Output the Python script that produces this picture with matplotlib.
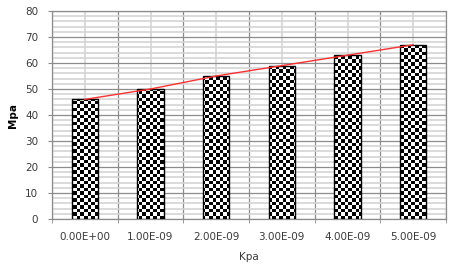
import numpy as np
import matplotlib
matplotlib.use("Agg")
import matplotlib.pyplot as plt
from matplotlib.ticker import MultipleLocator

# data
categories = ["0.00E+00", "1.00E-09", "2.00E-09", "3.00E-09", "4.00E-09", "5.00E-09"]
mpa_values = [46, 50, 55, 59, 63, 67]
x_label = "Kpa"
y_label = "Mpa"

text_col = "#3a3a3a"
major_grid = "#8c8c8c"
minor_grid = "#d4d4d4"

fig = plt.figure(figsize=(4.61, 2.78), dpi=100)
ax = fig.add_axes([52 / 461, 1 - 219 / 278, 394 / 461, 208 / 278])

x = np.arange(len(categories))
n = len(categories)

# bar outlines on top, checker image clipped to each bar beneath
bars = ax.bar(x, mpa_values, width=0.4, facecolor="none", edgecolor="black",
              linewidth=1.0, zorder=4)
ny, nx = 60, 113
checker = np.indices((ny, nx)).sum(axis=0) % 2
for b in bars:
    im = ax.imshow(checker, cmap="gray", extent=(-0.5, n - 0.5, 0, 80),
                   aspect="auto", interpolation="nearest", zorder=3)
    im.set_clip_path(b)

ax.plot(x, mpa_values, color="#ff3030", linewidth=1.0, zorder=5)

ax.set_xlim(-0.5, n - 0.5)
ax.set_ylim(0, 80)

# y axis: major every 10, minor every 2
ax.yaxis.set_major_locator(MultipleLocator(10))
ax.yaxis.set_minor_locator(MultipleLocator(2))
ax.grid(axis="y", which="major", color=major_grid, linewidth=0.9)
ax.grid(axis="y", which="minor", color=minor_grid, linewidth=1.2)

# x axis: labels at centres, dark lines at category boundaries
ax.set_xticks(x)
ax.set_xticklabels(categories)
ax.set_xticks(np.arange(n + 1) - 0.5, minor=True)
ax.grid(axis="x", which="major", color=minor_grid, linewidth=1.2)
ax.grid(axis="x", which="minor", color=major_grid, linewidth=0.9)
ax.set_axisbelow(True)

ax.tick_params(axis="x", which="major", length=0, pad=9.5, labelsize=7.5,
               labelcolor=text_col)
ax.tick_params(axis="x", which="minor", length=3, color=major_grid)
ax.tick_params(axis="y", which="major", length=3, color=major_grid, pad=7,
               labelsize=7.5, labelcolor=text_col)
ax.tick_params(axis="y", which="minor", length=0)

for s in ax.spines.values():
    s.set_color(major_grid)
    s.set_linewidth(0.9)

ax.set_xlabel(x_label, fontsize=7.5, color=text_col, labelpad=7)
ax.set_ylabel(y_label, fontsize=7.5, color="black", fontweight="bold", labelpad=5)

fig.savefig("out.png", dpi=100)
